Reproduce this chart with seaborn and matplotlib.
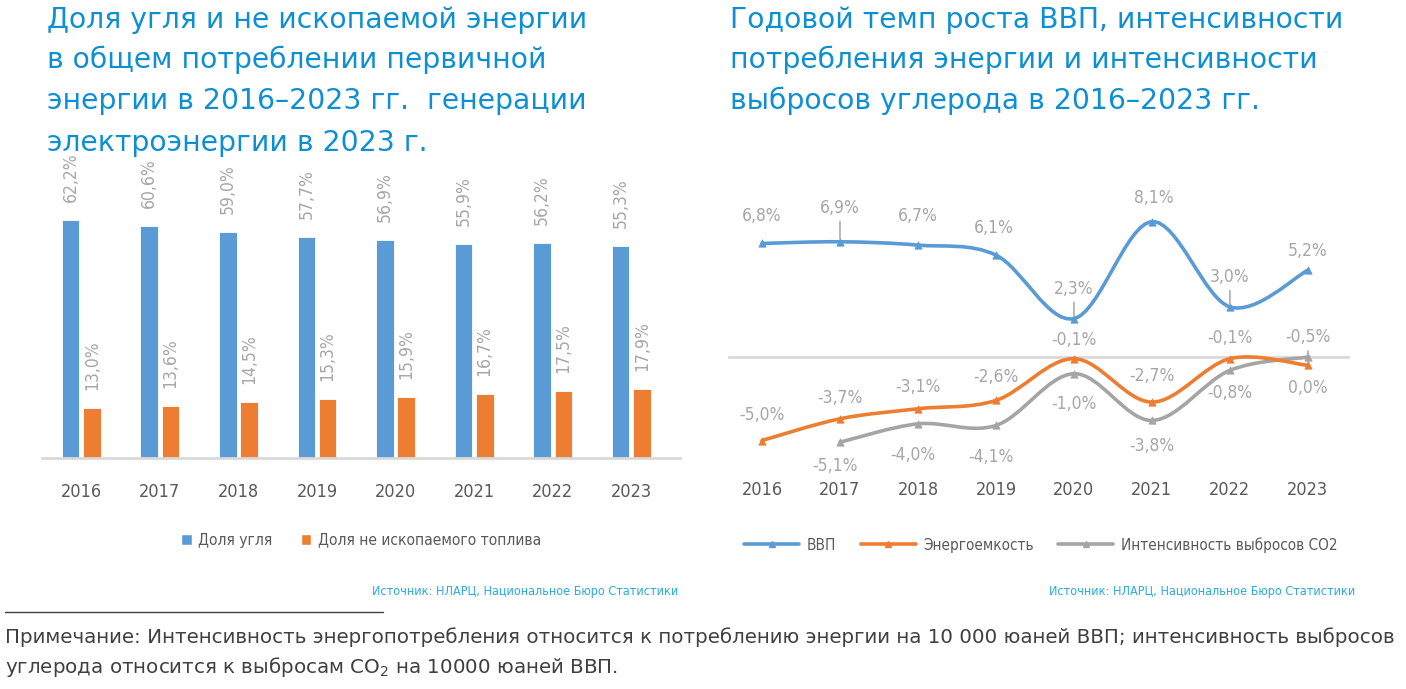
import numpy as np
import pandas as pd
import matplotlib
matplotlib.use("Agg")
import matplotlib.pyplot as plt
import seaborn as sns
from matplotlib.path import Path
from matplotlib.patches import PathPatch, Patch
from matplotlib.lines import Line2D

# ---------------- data ----------------
years = ["2016", "2017", "2018", "2019", "2020", "2021", "2022", "2023"]
bar_series = ["Доля угля", "Доля не ископаемого топлива"]
coal_share = [62.2, 60.6, 59.0, 57.7, 56.9, 55.9, 56.2, 55.3]
nonfossil_share = [13.0, 13.6, 14.5, 15.3, 15.9, 16.7, 17.5, 17.9]

line_series = ["ВВП", "Энергоемкость", "Интенсивность выбросов CO2"]
gdp_growth = [6.8, 6.9, 6.7, 6.1, 2.3, 8.1, 3.0, 5.2]
energy_intensity = [-5.0, -3.7, -3.1, -2.6, -0.1, -2.7, -0.1, -0.5]
carbon_intensity = [np.nan, -5.1, -4.0, -4.1, -1.0, -3.8, -0.8, 0.0]

title_left = ["Доля угля и не ископаемой энергии",
              "в общем потреблении первичной",
              "энергии в 2016–2023 гг.  генерации",
              "электроэнергии в 2023 г."]
title_right = ["Годовой темп роста ВВП, интенсивности",
               "потребления энергии и интенсивности",
               "выбросов углерода в 2016–2023 гг."]
source_text = "Источник: НЛАРЦ, Национальное Бюро Статистики"
note_lines = ["Примечание: Интенсивность энергопотребления относится к потреблению энергии на 10 000 юаней ВВП; интенсивность выбросов",
              "углерода относится к выбросам CO$_2$ на 10000 юаней ВВП."]

# ---------------- style ----------------
BLUE = "#5b9bd5"
ORANGE = "#ed7d31"
GRAY = "#a5a5a5"
LABEL_GRAY = "#a6a6a6"
TICK_GRAY = "#595959"
TITLE_BLUE = "#0d8fd4"
SRC_BLUE = "#29abe2"
NARROW = dict(family=["Liberation Sans Narrow", "DejaVu Sans"], fontstretch="condensed")

sns.set_theme(style="white")
plt.rcParams["font.family"] = ["DejaVu Sans"]

W, H = 1406, 689
fig = plt.figure(figsize=(W / 100, H / 100), dpi=100)


def fx(px):
    return px / W


def fy(py):
    return 1 - py / H


def pct(v):
    return f"{v:.1f}%".replace(".", ",")


# ---------------- left: bars ----------------
axL = fig.add_axes([fx(42), fy(458), fx(638), (458 - 170) / H])
df_bars = pd.DataFrame({
    "year": years * 2,
    "value": coal_share + nonfossil_share,
    "series": [bar_series[0]] * len(years) + [bar_series[1]] * len(years),
})
sns.barplot(data=df_bars, x="year", y="value", hue="series", hue_order=bar_series,
            palette=[BLUE, ORANGE], saturation=1, width=0.54, gap=0.17, ax=axL, legend=False,
            edgecolor="white", linewidth=0.6)
for cont, vals in zip(axL.containers, [coal_share, nonfossil_share]):
    axL.bar_label(cont, labels=[pct(v) for v in vals], rotation=90, padding=13,
                  color=LABEL_GRAY, fontsize=12.5, **NARROW)
axL.set_xlim(-0.5, 7.62)
axL.set_ylim(0, (458 - 170) / 3.83)
axL.set_xlabel("")
axL.set_ylabel("")
axL.set_yticks([])
for s in ["top", "right", "left"]:
    axL.spines[s].set_visible(False)
axL.spines["bottom"].set_color("#d9d9d9")
axL.spines["bottom"].set_linewidth(2)
axL.tick_params(axis="x", length=0, pad=18, colors=TICK_GRAY, labelsize=13)
for t in axL.get_xticklabels():
    t.set_family(NARROW["family"])
    t.set_fontstretch("condensed")

fig.legend(handles=[Patch(facecolor=BLUE, label=bar_series[0]),
                    Patch(facecolor=ORANGE, label=bar_series[1])],
           loc="center", bbox_to_anchor=(fx(361), fy(540)), ncol=2, frameon=False,
           handlelength=0.7, handleheight=0.7, handletextpad=0.4, columnspacing=1.8,
           prop=dict(size=11.2, family=NARROW["family"], stretch="condensed"),
           labelcolor=TICK_GRAY)

# ---------------- right: lines ----------------
axR = fig.add_axes([fx(728), fy(470), fx(622), (470 - 180) / H])
ppu = 16.7
axR.set_xlim(-0.436, 7.54)
axR.set_ylim(-(470 - 357) / ppu, (357 - 180) / ppu)
axR.axhline(0, color="#d9d9d9", lw=2, zorder=1)


def smooth_path(xs, ys):
    pts = [(x, y) for x, y in zip(xs, ys) if not np.isnan(y)]
    n = len(pts)
    verts = [pts[0]]
    codes = [Path.MOVETO]
    for i in range(n - 1):
        p0 = pts[i - 1] if i > 0 else pts[i]
        p1 = pts[i]
        p2 = pts[i + 1]
        p3 = pts[i + 2] if i + 2 < n else pts[i + 1]
        c1 = (p1[0] + (p2[0] - p0[0]) / 6, p1[1] + (p2[1] - p0[1]) / 6)
        c2 = (p2[0] - (p3[0] - p1[0]) / 6, p2[1] - (p3[1] - p1[1]) / 6)
        verts += [c1, c2, p2]
        codes += [Path.CURVE4] * 3
    return Path(verts, codes)


xs = np.arange(len(years))
series_vals = [gdp_growth, energy_intensity, carbon_intensity]
colors = [BLUE, ORANGE, GRAY]
zorders = [4, 4, 3]
for vals, c, z in zip(series_vals, colors, zorders):
    axR.add_patch(PathPatch(smooth_path(xs, vals), facecolor="none", edgecolor=c,
                            lw=2.6, zorder=z, capstyle="round"))
    m = ~np.isnan(np.array(vals, dtype=float))
    sns.scatterplot(x=xs[m], y=np.array(vals, dtype=float)[m], marker="^", s=28,
                    color=c, edgecolor=c, linewidth=0.5, ax=axR, zorder=z + 1, legend=False)

# label offsets in pixels (dx, dy), leader line flag
offsets = {
    0: [(0, 27, 0), (0, 34, 1), (0, 29, 0), (-2, 27, 0), (0, 30, 1), (2, 24, 0), (0, 30, 1), (0, 19, 0)],
    1: [(0, 26, 0), (0, 21, 0), (0, 22, 0), (0, 23, 0), (0, 19, 0), (0, 26, 0), (0, 21, 0), (0, 28, 1)],
    2: [(0, 0, 0), (-5, -24, 0), (-5, -31, 0), (-5, -32, 0), (0, -30, 0), (0, -26, 0), (0, -23, 0), (0, -31, 0)],
}
k = 72 / 100  # px -> points
for si, vals in enumerate(series_vals):
    for i, v in enumerate(vals):
        if np.isnan(v):
            continue
        dx, dy, lead = offsets[si][i]
        ap = dict(arrowstyle="-", color=LABEL_GRAY, lw=1.1, shrinkA=1, shrinkB=2) if lead else None
        axR.annotate(pct(v), xy=(i, v), xytext=(dx * k, dy * k), textcoords="offset points",
                     ha="center", va="center", color=LABEL_GRAY, fontsize=12.5,
                     arrowprops=ap, zorder=6, **NARROW)

axR.set_xticks(xs)
axR.set_xticklabels(years)
axR.set_yticks([])
for s in ["top", "right", "left", "bottom"]:
    axR.spines[s].set_visible(False)
axR.tick_params(axis="x", length=0, pad=8, colors=TICK_GRAY, labelsize=13)
for t in axR.get_xticklabels():
    t.set_family(NARROW["family"])
    t.set_fontstretch("condensed")

fig.legend(handles=[Line2D([], [], color=c, lw=2.6, marker="^", markersize=4, label=l)
                    for c, l in zip(colors, line_series)],
           loc="center", bbox_to_anchor=(fx(1041), fy(545)), ncol=3, frameon=False,
           handlelength=3.6, handletextpad=0.5, columnspacing=1.6,
           prop=dict(size=11, family=NARROW["family"], stretch="condensed"),
           labelcolor=TICK_GRAY)

# ---------------- titles / texts ----------------
for line, yc in zip(title_left, [20, 60, 101, 143]):
    fig.text(fx(47), fy(yc), line, color=TITLE_BLUE, fontsize=20.3, va="center", ha="left",
             family="DejaVu Sans")
for line, yc in zip(title_right, [20, 60, 101]):
    fig.text(fx(730), fy(yc), line, color=TITLE_BLUE, fontsize=20.3, va="center", ha="left",
             family="DejaVu Sans")

fig.text(fx(678), fy(591), source_text, color=SRC_BLUE, fontsize=9, ha="right", va="center", **NARROW)
fig.text(fx(1355), fy(591), source_text, color=SRC_BLUE, fontsize=9, ha="right", va="center", **NARROW)

fig.add_artist(Line2D([fx(5), fx(383)], [fy(612), fy(612)], color="#404040", lw=1))
fig.text(fx(5), fy(637), note_lines[0], color="#404040", fontsize=14.3, ha="left", va="center",
         family="DejaVu Sans")
fig.text(fx(5), fy(667), note_lines[1], color="#404040", fontsize=14.3, ha="left", va="center",
         family="DejaVu Sans")

fig.savefig("out.png", dpi=100)
